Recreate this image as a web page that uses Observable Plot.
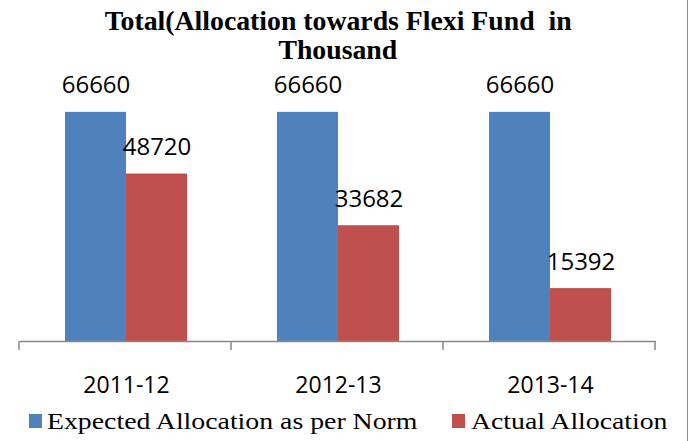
<!DOCTYPE html>
<html><head><meta charset="utf-8">
<script src="https://cdn.jsdelivr.net/npm/d3@7"></script>
<script src="https://cdn.jsdelivr.net/npm/@observablehq/plot@0.6"></script>
<style>
body{margin:0;background:#fff;}
#wrap{position:relative;width:688px;height:441px;overflow:hidden;background:#fff;}
#border{position:absolute;left:687px;top:0;width:1px;height:441px;background:#8c8c8c;}
.tl{position:absolute;left:0;width:676px;text-align:center;font-family:"Liberation Serif",serif;font-weight:bold;font-size:27px;line-height:27px;white-space:pre;color:#000;}
.tl span{display:inline-block;transform-origin:center;}
#chart{position:absolute;left:0;top:66px;}
.lg{position:absolute;top:409px;font-family:"Liberation Serif",serif;font-size:24px;line-height:24px;white-space:pre;color:#000;transform-origin:left;}
.sw{position:absolute;width:13px;height:14px;top:414px;}
</style></head><body>
<div id="wrap">
  <div class="tl" id="t1" style="top:8px"><span></span></div>
  <div class="tl" id="t2" style="top:37px"><span></span></div>
  <div id="chart"></div>
  <div class="sw" id="sw0" style="left:29px"></div>
  <div class="lg" id="lg0" style="left:47px"></div>
  <div class="sw" id="sw1" style="left:452px"></div>
  <div class="lg" id="lg1" style="left:471px"></div>
  <div id="border"></div>
</div>
<script>
const titleLines = ["Total(Allocation towards Flexi Fund  in", "Thousand"];
const categories = ["2011-12", "2012-13", "2013-14"];
const series = ["Expected Allocation as per Norm", "Actual Allocation"];
const expected = [66660, 66660, 66660];
const actual = [48720, 33682, 15392];
const colors = ["#4F81BD", "#C0504D"];

const data = [];
categories.forEach((c, i) => {
  data.push({cat: c, series: series[0], value: expected[i]});
  data.push({cat: c, series: series[1], value: actual[i]});
});

// Title
const canvas = document.createElement("canvas");
const ctx = canvas.getContext("2d");
ctx.font = "bold 27px 'Liberation Serif'";
const tScale = 467 / ctx.measureText(titleLines[0]).width;
["t1", "t2"].forEach((id, i) => {
  const sp = document.querySelector("#" + id + " span");
  sp.textContent = titleLines[i];
  sp.style.transform = `scaleX(${tScale})`;
});

const plot = Plot.plot({
  width: 688,
  height: 340,
  marginTop: 0,
  marginBottom: 65,
  marginLeft: 19,
  marginRight: 31,
  style: {fontFamily: "'Open Sans', sans-serif", fontSize: "24px", color: "#000", background: "transparent"},
  fx: {domain: categories, padding: 0, label: null},
  x: {domain: series, paddingInner: 0, paddingOuter: 0.715, axis: null},
  y: {domain: [0, 80000], axis: null},
  color: {domain: series, range: colors},
  marks: [
    Plot.barY(data, {fx: "cat", x: "series", y: "value", fill: "series"}),
    Plot.ruleY([0], {stroke: "#878787", strokeWidth: 1.5}),
    Plot.text(data, {fx: "cat", x: "series", y: "value", text: d => String(d.value), lineAnchor: "bottom", dy: -19, fontSize: 24, fill: "#000"}),
    Plot.axisFx({anchor: "bottom", tickSize: 0, tickPadding: 35, fontSize: 23, label: null, fill: "#000"})
  ]
});

// Category boundary ticks (Excel style) using the fx scale
const fxs = plot.scale("fx");
const ys = plot.scale("y");
const y0 = ys.apply ? ys.apply(0) : ys.range[0];
const step = fxs.step || (fxs.range[1] - fxs.range[0]) / fxs.domain.length;
d3.select(plot).append("g")
  .selectAll("line")
  .data(d3.range(categories.length + 1))
  .join("line")
  .attr("x1", i => fxs.range[0] + i * step)
  .attr("x2", i => fxs.range[0] + i * step)
  .attr("y1", y0)
  .attr("y2", y0 + 9)
  .attr("stroke", "#878787")
  .attr("stroke-width", 1.5);

document.getElementById("chart").appendChild(plot);

// Legend
ctx.font = "24px 'Liberation Serif'";
const lgTargets = [372, 198];
series.forEach((s, i) => {
  document.getElementById("sw" + i).style.background = colors[i];
  const el = document.getElementById("lg" + i);
  el.textContent = s;
  el.style.transform = `scaleX(${lgTargets[i] / ctx.measureText(s).width})`;
});
</script>
</body></html>
